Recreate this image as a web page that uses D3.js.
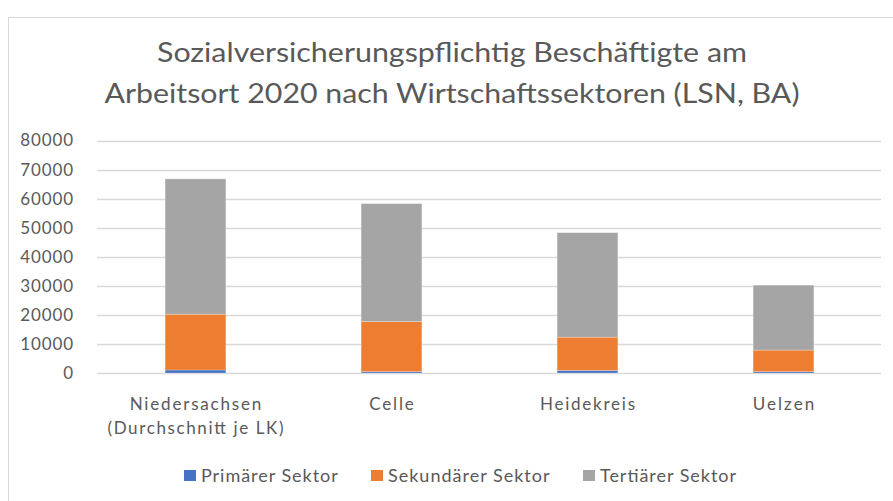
<!DOCTYPE html>
<html>
<head>
<meta charset="utf-8">
<script src="https://cdn.jsdelivr.net/npm/d3@7"></script>
<style>
  body { margin: 0; background: #fff; }
  svg { display: block; font-family: Lato, "Open Sans", sans-serif; }
</style>
</head>
<body>
<svg width="893" height="501"></svg>
<script>
// Data.
var categories = ["Niedersachsen|(Durchschnitt je LK)", "Celle", "Heidekreis", "Uelzen"];
var seriesNames = ["Primärer Sektor", "Sekundärer Sektor", "Tertiärer Sektor"];
var primaer = [1030, 460, 900, 460];
var sekundaer = [19200, 17240, 11440, 7430];
var tertiaer = [46570, 40580, 35940, 22340];
var yTicks = [0, 10000, 20000, 30000, 40000, 50000, 60000, 70000, 80000];
var titleLines = ["Sozialversicherungspflichtig Beschäftigte am",
                  "Arbeitsort 2020 nach Wirtschaftssektoren (LSN, BA)"];

var colors = ["#4472c4", "#ed7d31", "#a5a5a5"];
var textColor = "#595959";

var svg = d3.select("svg");

// Widen text a little: the original font (Calibri) is set with looser spacing.
function widen(sel, k) {
    sel.each(function() {
        var len = this.getComputedTextLength();
        d3.select(this)
            .attr("textLength", len * k)
            .attr("lengthAdjust", "spacing");
    });
}

// Chart frame
svg.append("rect")
    .attr("x", 8.5).attr("y", 17.5)
    .attr("width", 900).attr("height", 500)
    .attr("fill", "#fff")
    .attr("stroke", "#d9d9d9");

// Title
svg.append("g").selectAll("text")
    .data(titleLines)
    .join("text")
    .attr("x", 452)
    .attr("y", function(d, i) { return 62 + i * 41; })
    .attr("text-anchor", "middle")
    .attr("font-size", 27)
    .attr("fill", textColor)
    .attr("textLength", function(d, i) { return i === 0 ? 590 : 695; })
    .attr("lengthAdjust", "spacingAndGlyphs")
    .text(function(d) { return d; });

// Stack the series.
var rows = categories.map(function(c, i) {
    return { cat: c, p: primaer[i], s: sekundaer[i], t: tertiaer[i] };
});
var stack = d3.stack().keys(["p", "s", "t"]);
var layers = stack(rows);

var x = d3.scaleBand()
    .domain(categories)
    .range([97.5, 881.5])
    .paddingInner(0.69)
    .paddingOuter(0.345);

var y = d3.scaleLinear()
    .domain([0, 80000])
    .range([373, 140.5]);

// Gridlines
svg.append("g").selectAll("line")
    .data(yTicks)
    .join("line")
    .attr("x1", 97).attr("x2", 881)
    .attr("y1", function(d) { return Math.round(y(d)) + 0.5; })
    .attr("y2", function(d) { return Math.round(y(d)) + 0.5; })
    .attr("stroke", "#d9d9d9")
    .attr("stroke-width", 1.5);

// Y axis labels
var yAxis = d3.axisLeft(y).tickValues(yTicks).tickSize(0).tickPadding(0)
    .tickFormat(function(d) { return String(d); });
var gy = svg.append("g").attr("transform", "translate(73,0)").call(yAxis);
gy.select(".domain").remove();
gy.selectAll("text")
    .attr("font-family", "Lato, 'Open Sans', sans-serif")
    .attr("font-size", 17)
    .attr("fill", textColor)
    .call(widen, 1.07);

// Bars
svg.append("g").selectAll("g")
    .data(layers)
    .join("g")
    .attr("fill", function(d, i) { return colors[i]; })
    .selectAll("rect")
    .data(function(d) { return d; })
    .join("rect")
    .attr("x", function(d) { return x(d.data.cat); })
    .attr("width", x.bandwidth())
    .attr("y", function(d) { return y(d[1]); })
    .attr("height", function(d) { return y(d[0]) - y(d[1]); })
    .attr("stroke", "#fff")
    .attr("stroke-opacity", 0.35)
    .attr("stroke-width", 0.75);

// Category labels
var cat = svg.append("g").selectAll("g")
    .data(categories)
    .join("g")
    .attr("transform", function(d) {
        return "translate(" + (x(d) + x.bandwidth() / 2) + ",410)";
    });
cat.selectAll("text")
    .data(function(d) { return d.split("|"); })
    .join("text")
    .attr("y", function(d, i) { return i * 24; })
    .attr("text-anchor", "middle")
    .attr("font-size", 17)
    .attr("fill", textColor)
    .text(function(d) { return d; })
    .call(widen, 1.2);

// Legend
var legendX = [184, 371, 583];
var leg = svg.append("g").selectAll("g")
    .data(seriesNames)
    .join("g")
    .attr("transform", function(d, i) { return "translate(" + legendX[i] + ",470)"; });
leg.append("rect")
    .attr("width", 12).attr("height", 11)
    .attr("fill", function(d, i) { return colors[i]; });
leg.append("text")
    .attr("x", 17).attr("y", 11.5)
    .attr("font-size", 18)
    .attr("fill", textColor)
    .text(function(d) { return d; })
    .call(widen, 1.11);
</script>
</body>
</html>
